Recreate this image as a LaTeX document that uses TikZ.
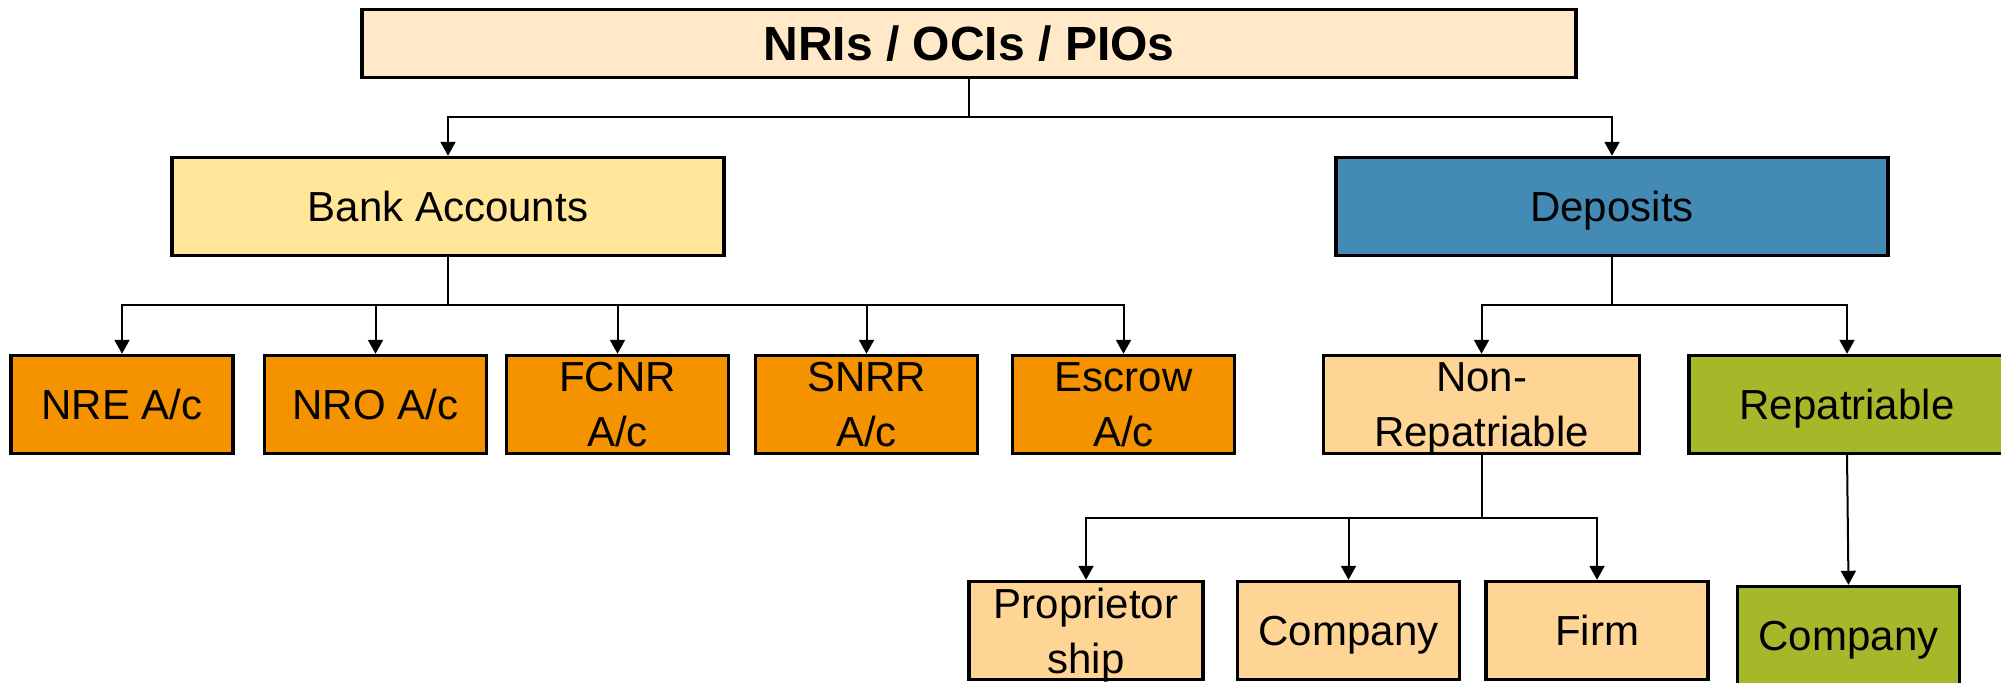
\documentclass[tikz,border=0pt]{standalone}
\usepackage{xcolor}
\usepackage{tikz}
\usetikzlibrary{arrows.meta}
\usepackage{fontspec}
\setmainfont{Liberation Sans}

\definecolor{fondoTitulo}{HTML}{FFE9C8}
\definecolor{fondoBanco}{HTML}{FFE699}
\definecolor{fondoDeposito}{HTML}{438AB5}
\definecolor{fondoCuenta}{HTML}{F59200}
\definecolor{fondoNoRep}{HTML}{FFD596}
\definecolor{fondoRep}{HTML}{A6B82A}

\begin{document}
\begin{tikzpicture}[x=0.5pt, y=-0.5pt,
  caja/.style={draw=black, line width=1.7pt, minimum height=49pt, align=center,
    inner sep=0pt, text depth=0pt, font=\fontsize{21}{27.5}\selectfont},
  flecha/.style={draw=black, line width=1pt, -{Triangle[length=7pt, width=7.5pt]}}]
% Parámetros del dibujo (en píxeles)
\def\ancho{2001}
\def\alto{683}
\def\bajadaA{38}
\def\bajadaB{48}
\def\bajadaC{63}

% Marco de la figura
\useasboundingbox (0,0) rectangle (\ancho,\alto);
\fill[white] (0,0) rectangle (\ancho,\alto);

% Nivel superior
\node[caja, fill=fondoTitulo, minimum width=607pt, minimum height=34pt,
  font=\fontsize{24}{29}\selectfont\bfseries] (top) at (969,43.5) {NRIs / OCIs / PIOs};

% Segundo nivel
\node[caja, fill=fondoBanco, minimum width=276pt] (bank) at (448,206.5) {Bank Accounts};
\node[caja, fill=fondoDeposito, minimum width=276pt] (deposits) at (1612,206.5) {Deposits};

% Tipos de cuenta
\node[caja, fill=fondoCuenta, minimum width=111pt] (nre) at (122,404.5) {NRE A/c};
\node[caja, fill=fondoCuenta, minimum width=111pt] (nro) at (375.5,404.5) {NRO A/c};
\node[caja, fill=fondoCuenta, minimum width=111pt] (fcnr) at (617.5,404.5) {FCNR\\A/c};
\node[caja, fill=fondoCuenta, minimum width=111pt] (snrr) at (866.5,404.5) {SNRR\\A/c};
\node[caja, fill=fondoCuenta, minimum width=111pt] (escrow) at (1123.5,404.5) {Escrow\\A/c};

% Tipos de depósito
\node[caja, fill=fondoNoRep, minimum width=158pt] (nonrep) at (1481.5,404.5) {Non-\\Repatriable};
\node[caja, fill=fondoRep, minimum width=158pt] (rep) at (1847,404.5) {Repatriable};

% Nivel inferior
\node[caja, fill=fondoNoRep, minimum width=117pt] (prop) at (1086,630.5) {Proprietor\\ship};
\node[caja, fill=fondoNoRep, minimum width=111pt] (compa) at (1348.5,630.5) {Company};
\node[caja, fill=fondoNoRep, minimum width=111pt] (firm) at (1597,630.5) {Firm};
\node[caja, fill=fondoRep, minimum width=111pt] (compb) at (1848.5,635.5) {Company};

% Conectores
\foreach \n in {bank,deposits}
  \draw[flecha] (top.south) -- ++(0,\bajadaA) -| (\n.north);
\foreach \n in {nre,nro,fcnr,snrr,escrow}
  \draw[flecha] (bank.south) -- ++(0,\bajadaB) -| (\n.north);
\foreach \n in {nonrep,rep}
  \draw[flecha] (deposits.south) -- ++(0,\bajadaB) -| (\n.north);
\foreach \n in {prop,compa,firm}
  \draw[flecha] (nonrep.south) -- ++(0,\bajadaC) -| (\n.north);
\draw[flecha] (rep.south) -- (compb.north);

\end{tikzpicture}
\end{document}
